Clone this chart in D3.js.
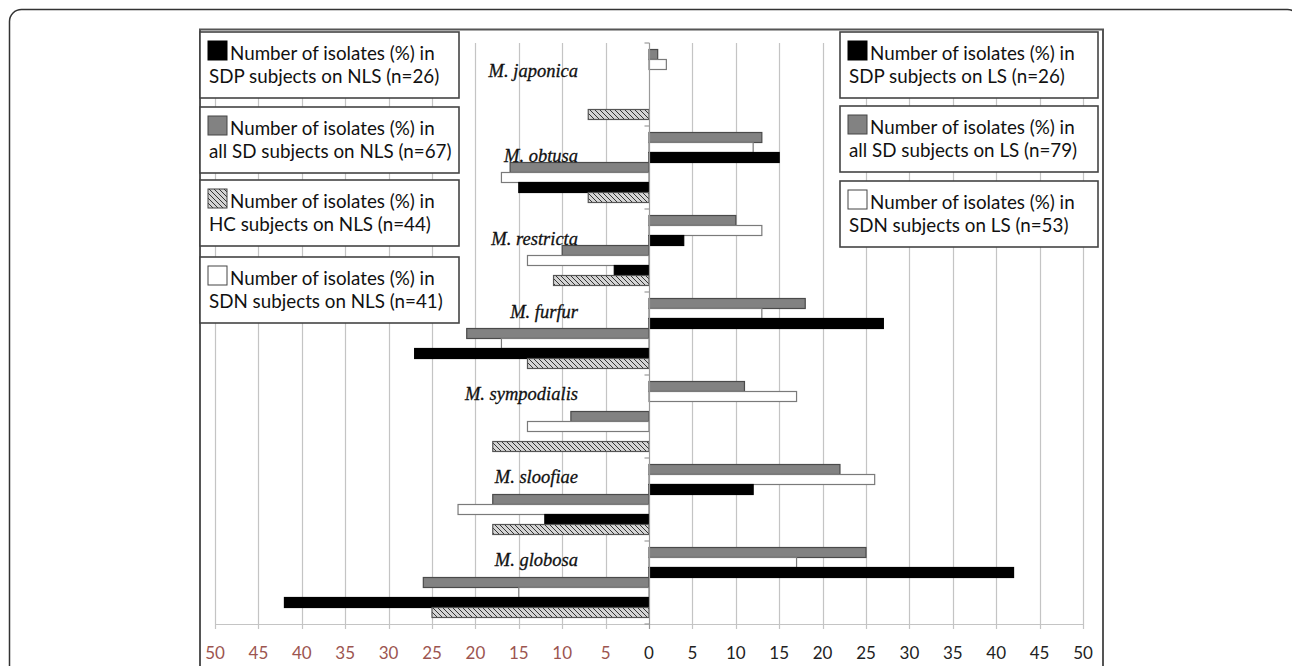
<!DOCTYPE html>
<html>
  <head>
    <script src="https://d3js.org/d3.v7.min.js"></script>
    <style>
      body { margin: 0; background: #fff; }
    </style>
  </head>
  <body>
    <svg width="1292" height="666"></svg>
    <script>
      // species, top to bottom
      const categories = ["M. japonica", "M. obtusa", "M. restricta", "M. furfur",
                          "M. sympodialis", "M. sloofiae", "M. globosa"];

      // lesional skin (right side)
      const lsAllSD = [1, 13, 10, 18, 11, 22, 25];
      const lsSDN   = [2, 12, 13, 13, 17, 26, 17];
      const lsSDP   = [0, 15, 4, 27, 0, 12, 42];

      // non-lesional skin (left side)
      const nlsAllSD = [0, 16, 10, 21, 9, 18, 26];
      const nlsSDN   = [0, 17, 14, 17, 14, 22, 15];
      const nlsSDP   = [0, 15, 4, 27, 0, 12, 42];
      const nlsHC    = [7, 7, 11, 14, 18, 18, 25];

      const tickValues = [-50, -45, -40, -35, -30, -25, -20, -15, -10, -5, 0,
                          5, 10, 15, 20, 25, 30, 35, 40, 45, 50];

      const leftLegend = [
        ["Number of isolates (%) in", "SDP subjects on NLS (n=26)", "black"],
        ["Number of isolates (%) in", "all SD subjects on NLS (n=67)", "grey"],
        ["Number of isolates (%) in", "HC subjects on NLS (n=44)", "hatch"],
        ["Number of isolates (%) in", "SDN subjects on NLS (n=41)", "white"]
      ];
      const rightLegend = [
        ["Number of isolates (%) in", "SDP subjects on LS (n=26)", "black"],
        ["Number of isolates (%) in", "all SD subjects on LS (n=79)", "grey"],
        ["Number of isolates (%) in", "SDN subjects on LS (n=53)", "white"]
      ];

      // bar order inside each category band (Excel-style cluster)
      const series = [
        {key: "lsAllSD", side: 1, values: lsAllSD, kind: "grey"},
        {key: "lsSDN", side: 1, values: lsSDN, kind: "white"},
        {key: "lsSDP", side: 1, values: lsSDP, kind: "black"},
        {key: "nlsAllSD", side: -1, values: nlsAllSD, kind: "grey"},
        {key: "nlsSDN", side: -1, values: nlsSDN, kind: "white"},
        {key: "nlsSDP", side: -1, values: nlsSDP, kind: "black"},
        {key: "nlsHC", side: -1, values: nlsHC, kind: "hatch"}
      ];

      const svg = d3.select("svg");
      const plotTop = 43, plotBottom = 624;

      const fills = {black: "#000", grey: "#828282", white: "#fff", hatch: "url(#hatch)"};
      const strokes = {black: "#000", grey: "#4a4a4a", white: "#7a7a7a", hatch: "#555"};

      const defs = svg.append("defs");
      const pat = defs.append("pattern")
        .attr("id", "hatch")
        .attr("patternUnits", "userSpaceOnUse")
        .attr("width", 5).attr("height", 5);
      pat.append("rect").attr("width", 5).attr("height", 5).attr("fill", "#d4d4d4");
      pat.append("path")
        .attr("d", "M0,0 L5,5 M-1,4 L1,6 M4,-1 L6,1")
        .attr("stroke", "#333").attr("stroke-width", 1);

      // outer frame
      svg.append("rect")
        .attr("x", 9.5).attr("y", 9.5)
        .attr("width", 1290).attr("height", 720)
        .attr("rx", 12)
        .attr("fill", "none").attr("stroke", "#333").attr("stroke-width", 1.5);

      // chart box
      svg.append("rect")
        .attr("x", 200).attr("y", 29.5)
        .attr("width", 903).attr("height", 700)
        .attr("fill", "#fff").attr("stroke", "#555").attr("stroke-width", 2);

      const x = d3.scaleLinear().domain([-50, 50]).range([215, 1083]);
      const y = d3.scaleBand().domain(categories).range([plotTop, plotBottom]);
      const ySlot = d3.scaleBand()
        .domain(series.map(s => s.key))
        .range([0, y.bandwidth()])
        .paddingInner(0).paddingOuter(0.65);

      // gridlines
      svg.append("g").selectAll("line")
        .data(tickValues.filter(d => d !== 0))
        .join("line")
          .attr("x1", d => Math.round(x(d)) + 0.5).attr("x2", d => Math.round(x(d)) + 0.5)
          .attr("y1", plotTop).attr("y2", plotBottom + 5)
          .attr("stroke", "#c4c4c4").attr("stroke-width", 1.2);

      // baseline
      svg.append("line")
        .attr("x1", x(-50)).attr("x2", x(50))
        .attr("y1", plotBottom + 0.5).attr("y2", plotBottom + 0.5)
        .attr("stroke", "#c4c4c4").attr("stroke-width", 1.2);

      // bars
      series.forEach(s => {
        svg.append("g").selectAll("rect")
          .data(s.values.map((v, i) => ({v, cat: categories[i]})).filter(d => d.v > 0))
          .join("rect")
            .attr("x", d => s.side > 0 ? x(0) : x(-d.v))
            .attr("width", d => x(d.v) - x(0))
            .attr("y", d => y(d.cat) + ySlot(s.key))
            .attr("height", ySlot.bandwidth())
            .attr("fill", fills[s.kind])
            .attr("stroke", strokes[s.kind])
            .attr("stroke-width", 1.2);
      });

      // zero axis with category ticks
      const zx = Math.round(x(0)) + 0.5;
      svg.append("line")
        .attr("x1", zx).attr("x2", zx).attr("y1", plotTop).attr("y2", plotBottom + 5)
        .attr("stroke", "#9a9a9a").attr("stroke-width", 1.2);
      svg.append("g").selectAll("line")
        .data(categories.map(c => y(c)).concat([plotBottom]))
        .join("line")
          .attr("x1", zx - 5).attr("x2", zx)
          .attr("y1", d => d).attr("y2", d => d)
          .attr("stroke", "#9a9a9a").attr("stroke-width", 1.2);

      // species labels (hand placed in the original)
      const labelDy = [34, 36, 36, 26, 25, 25, 25];
      svg.append("g").selectAll("text")
        .data(categories)
        .join("text")
          .attr("x", 578)
          .attr("y", (d, i) => y(d) + labelDy[i])
          .attr("text-anchor", "end")
          .attr("font-family", "Liberation Serif, serif")
          .attr("font-style", "italic")
          .attr("font-size", 18.5)
          .attr("fill", "#111")
          .attr("stroke", "#111").attr("stroke-width", 0.3)
          .text(d => d);

      // tick labels
      svg.append("g").selectAll("text")
        .data(tickValues)
        .join("text")
          .attr("x", d => x(d))
          .attr("y", 659)
          .attr("text-anchor", "middle")
          .attr("font-family", "Lato, sans-serif")
          .attr("font-size", 17)
          .attr("fill", d => d < 0 ? "#9c5550" : "#222")
          .text(d => Math.abs(d));

      // legends
      function legend(items, x0, x1, tops) {
        items.forEach((it, i) => {
          const g = svg.append("g").attr("transform", `translate(${x0},${tops[i]})`);
          g.append("rect")
            .attr("width", x1 - x0).attr("height", 66)
            .attr("fill", "#fff").attr("stroke", "#444").attr("stroke-width", 1.6);
          g.append("rect")
            .attr("x", 8).attr("y", 9).attr("width", 19).attr("height", 19)
            .attr("fill", fills[it[2]])
            .attr("stroke", it[2] === "black" ? "#000" : "#444").attr("stroke-width", 1);
          g.append("text")
            .attr("x", 30).attr("y", 28)
            .attr("font-family", "Lato, sans-serif").attr("font-size", 18.8)
            .attr("fill", "#111")
            .text(it[0]);
          g.append("text")
            .attr("x", 9).attr("y", 51)
            .attr("font-family", "Lato, sans-serif").attr("font-size", 18.8)
            .attr("fill", "#111")
            .text(it[1]);
        });
      }
      legend(leftLegend, 200, 459, [32, 107, 180, 257]);
      legend(rightLegend, 840, 1098, [32, 106, 181]);
    </script>
  </body>
</html>
